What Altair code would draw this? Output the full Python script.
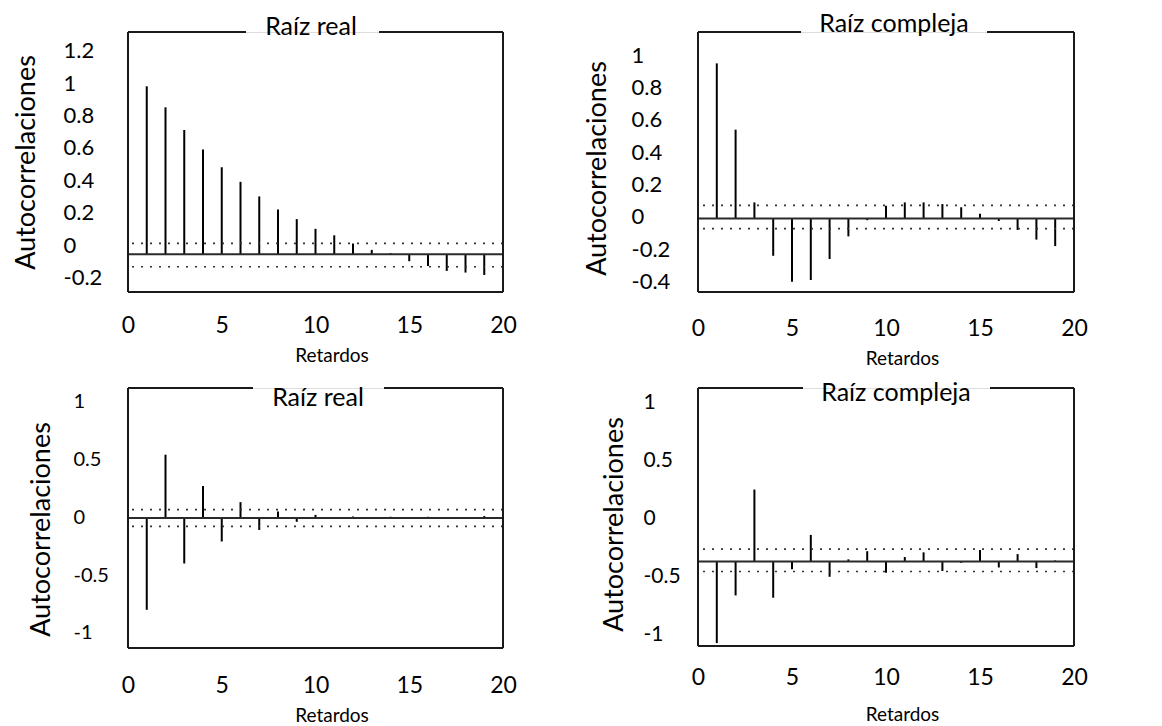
import altair as alt
import pandas as pd

FONT = "Lato"

# ---------------- data (in axis units) ----------------
lags = list(range(1, 20))

tl_vals = [0.98, 0.85, 0.71, 0.59, 0.48, 0.39, 0.30, 0.22, 0.16, 0.10,
           0.06, 0.01, -0.03, -0.05, -0.10, -0.13, -0.16, -0.17, -0.185]
tr_vals = [0.95, 0.54, 0.09, -0.24, -0.40, -0.39, -0.26, -0.12, -0.02, 0.07,
           0.09, 0.09, 0.08, 0.06, 0.02, -0.025, -0.08, -0.14, -0.18]
bl_vals = [-0.80, 0.54, -0.40, 0.27, -0.21, 0.13, -0.11, 0.05, -0.04, 0.02,
           -0.01, 0.005, -0.005, 0.004, -0.004, 0.003, -0.003, 0.002, 0.01]
br_vals = [-1.07, -0.66, 0.25, -0.68, -0.435, -0.14, -0.50, -0.35, -0.28, -0.465,
           -0.33, -0.29, -0.45, -0.38, -0.27, -0.42, -0.305, -0.425, -0.36]

# zero line and confidence bands of each panel (axis units)
tl_base, tl_conf = -0.057, [0.01, -0.134]
tr_base, tr_conf = -0.01, [0.072, -0.072]
bl_base, bl_conf = -0.007, [0.065, -0.079]
br_base, br_conf = -0.368, [-0.262, -0.455]

# axis domains and tick labels
x_ticks = [0, 5, 10, 15, 20]
tl_dom, tl_ticks = [-0.29, 1.315], [1.2, 1, 0.8, 0.6, 0.4, 0.2, 0, -0.2]
tr_dom, tr_ticks = [-0.464, 1.144], [1, 0.8, 0.6, 0.4, 0.2, 0, -0.2, -0.4]
bl_dom, bl_ticks = [-1.13, 1.116], [1, 0.5, 0, -0.5, -1]
br_dom, br_ticks = [-1.095, 1.123], [1, 0.5, 0, -0.5, -1]

titles = ["Raíz real", "Raíz compleja", "Raíz real", "Raíz compleja"]
y_title = "Autocorrelaciones"
x_title = "Retardos"


def panel(vals, base, conf, ydom, yticks, title, W, H, t_x, t_y, gap,
          ylab_pad, ylab_size, ytitle_x, ytitle_dy, xlab_pad, xtitle_y):
    bars = pd.DataFrame({"lag": lags, "value": vals, "base": [base] * len(lags)})
    conf_df = pd.DataFrame({"value": conf})
    base_df = pd.DataFrame({"value": [base]})
    one = pd.DataFrame({"k": [0]})

    xs = alt.Scale(domain=[0, 20], nice=False, zero=False)
    ys = alt.Scale(domain=ydom, nice=False, zero=False)
    yaxis = alt.Axis(values=yticks, labelExpr="'' + datum.value", ticks=False,
                     domain=False, grid=False, labelAlign="left",
                     labelBaseline="middle", labelPadding=ylab_pad,
                     labelFont=FONT, labelFontSize=ylab_size, labelColor="black",
                     labelFlush=False, labelOverlap=False,
                     title=y_title, titleFont=FONT, titleFontSize=27,
                     titleFontWeight="normal", titleColor="black",
                     titleX=ytitle_x, titleY=H / 2 + ytitle_dy,
                     titleAlign="center", titleBaseline="middle", titleAngle=270)
    xaxis = alt.Axis(values=x_ticks, ticks=False, domain=False, grid=False,
                     labelBaseline="middle", labelPadding=xlab_pad,
                     labelFont=FONT, labelFontSize=23, labelColor="black",
                     labelFlush=False, labelOverlap=False,
                     title=x_title, titleFont=FONT, titleFontSize=19,
                     titleFontWeight="normal", titleColor="black",
                     titleX=W / 2 + 16, titleY=xtitle_y,
                     titleAlign="center", titleBaseline="middle")
    Y = lambda f: alt.Y(f, type="quantitative", scale=ys, axis=yaxis)

    frame_style = dict(color="#1a1a1a", strokeWidth=2)
    g0, g1 = gap
    frame = [
        alt.Chart(one).mark_rule(**frame_style).encode(x=alt.value(0)),
        alt.Chart(one).mark_rule(**frame_style).encode(x=alt.value(W)),
        alt.Chart(one).mark_rule(**frame_style).encode(y=alt.value(H)),
        alt.Chart(one).mark_rule(**frame_style).encode(
            y=alt.value(0), x=alt.value(0), x2=alt.value(g0)),
        alt.Chart(one).mark_rule(**frame_style).encode(
            y=alt.value(0), x=alt.value(g1), x2=alt.value(W)),
    ]
    head = alt.Chart(one).mark_text(
        text=title, font=FONT, fontSize=25, color="black",
        align="center", baseline="middle").encode(
        x=alt.value(t_x), y=alt.value(t_y))
    conf_l = alt.Chart(conf_df).mark_rule(
        color="#333", strokeWidth=1.6, strokeDash=[2, 7]).encode(y=Y("value"))
    base_l = alt.Chart(base_df).mark_rule(
        color="#2a2a2a", strokeWidth=2).encode(y=Y("value"))
    bar_l = alt.Chart(bars).mark_rule(color="black", strokeWidth=2).encode(
        x=alt.X("lag:Q", scale=xs, axis=xaxis),
        y=Y("base"), y2="value")

    return alt.layer(bar_l, conf_l, base_l, *frame, head).properties(
        width=W, height=H)


tl = panel(tl_vals, tl_base, tl_conf, tl_dom, tl_ticks, titles[0], 375, 260,
           183, -5, (118, 251), 65, 22, -102, 0, 33, 63)
tr = panel(tr_vals, tr_base, tr_conf, tr_dom, tr_ticks, titles[1], 376, 260,
           196, -8, (103, 289), 67, 22, -101, 6, 36, 66)
bl = panel(bl_vals, bl_base, bl_conf, bl_dom, bl_ticks, titles[2], 375, 260,
           190, 10, (125, 256), 55, 20, -87, 11, 37, 67)
br = panel(br_vals, br_base, br_conf, br_dom, br_ticks, titles[3], 376, 258,
           198, 5, (105, 292), 55, 21, -84, 7, 31, 68)

chart = alt.concat(tl, tr, bl, br, columns=2,
                   spacing={"row": 96, "column": 195}, bounds="flush").properties(
    padding={"left": 3, "top": 3, "right": 0, "bottom": 0}
).configure_view(stroke=None).configure(background="white")

chart.save("out.html", embed_options={"renderer": "svg", "actions": False})
